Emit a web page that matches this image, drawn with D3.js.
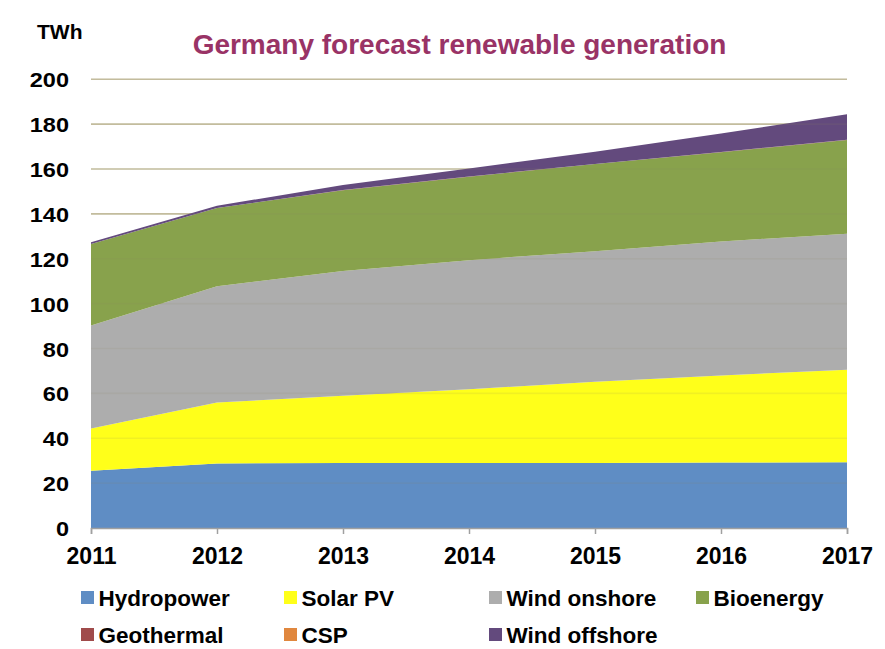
<!DOCTYPE html>
<html>
<head>
<meta charset="utf-8">
<script src="https://cdn.jsdelivr.net/npm/d3@7"></script>
<style>
  body { margin: 0; background: #fff; }
  text { font-family: "Liberation Sans", Arial, sans-serif; font-weight: bold; }
</style>
</head>
<body>
<div id="chart"></div>
<script>
// Germany forecast renewable generation, TWh
const years = [2011, 2012, 2013, 2014, 2015, 2016, 2017];
const hydropower = [25.5, 28.8, 29.0, 29.0, 29.0, 29.2, 29.3];
const solarPV = [18.9, 27.1, 29.9, 32.8, 36.2, 38.8, 41.2];
const windOnshore = [45.9, 51.9, 55.6, 57.6, 58.2, 59.7, 60.7];
const bioenergy = [36.3, 34.8, 36.1, 37.2, 38.8, 39.8, 41.7];
const geothermal = [0.02, 0.03, 0.05, 0.08, 0.1, 0.1, 0.17];
const csp = [0, 0, 0, 0, 0, 0, 0];
const windOffshore = [0.8, 1.0, 2.25, 3.6, 5.4, 8.2, 11.4];
const yTicks = [0, 20, 40, 60, 80, 100, 120, 140, 160, 180, 200];

const seriesNames = ["Hydropower", "Solar PV", "Wind onshore", "Bioenergy", "Geothermal", "CSP", "Wind offshore"];
const seriesValues = [hydropower, solarPV, windOnshore, bioenergy, geothermal, csp, windOffshore];
const seriesColors = ["#5f8dc4", "#ffff1a", "#adadad", "#88a24c", "#a04b4b", "#e0873e", "#634a7d"];

// table for d3.stack
const table = years.map((y, i) => {
  const row = { year: y };
  seriesNames.forEach((name, k) => { row[name] = seriesValues[k][i]; });
  return row;
});

const width = 885;
const height = 649;
const plot = { left: 91, right: 847, top: 79.3, bottom: 528 };

const svg = d3.select("#chart")
  .append("svg")
  .attr("width", width)
  .attr("height", height);

const xScale = d3.scaleLinear()
  .domain(d3.extent(years))
  .range([plot.left, plot.right]);

const yScale = d3.scaleLinear()
  .domain([0, 200])
  .range([plot.bottom, plot.top]);

// gridlines behind the areas
const grid = svg.append("g");
grid.selectAll("line")
  .data(yTicks.filter(d => d > 0))
  .enter()
  .append("line")
  .attr("x1", plot.left)
  .attr("x2", plot.right)
  .attr("y1", d => yScale(d))
  .attr("y2", d => yScale(d))
  .attr("stroke", "#cbc4a6")
  .attr("stroke-width", 1.6);

// stacked areas
const stack = d3.stack().keys(seriesNames);
const layers = stack(table);

const area = d3.area()
  .x(d => xScale(d.data.year))
  .y0(d => yScale(d[0]))
  .y1(d => yScale(d[1]));

svg.append("g")
  .selectAll("path")
  .data(layers)
  .enter()
  .append("path")
  .attr("d", area)
  .attr("fill", (d, i) => seriesColors[i]);

// faint gridlines showing through the areas
svg.append("g")
  .selectAll("line")
  .data(yTicks.filter(d => d > 0))
  .enter()
  .append("line")
  .attr("x1", plot.left)
  .attr("x2", plot.right)
  .attr("y1", d => yScale(d))
  .attr("y2", d => yScale(d))
  .attr("stroke", "#8a8060")
  .attr("stroke-opacity", 0.12)
  .attr("stroke-width", 1.6);

// x axis
const xAxis = svg.append("g")
  .attr("transform", `translate(0, ${plot.bottom})`)
  .call(d3.axisBottom(xScale).tickValues(years).tickFormat(d3.format("d")).tickSize(6).tickPadding(14));
xAxis.select(".domain").attr("stroke", "#a0a0a0").attr("stroke-width", 1.5);
xAxis.selectAll(".tick line").attr("stroke", "#a0a0a0").attr("stroke-width", 1.5);
xAxis.selectAll(".tick text")
  .attr("font-size", "23px")
  .attr("fill", "#000")
  .attr("dy", "0.71em")
  .style("font-family", "'Liberation Sans', Arial, sans-serif");

// y axis labels (a bit wider than plain Arial in the original)
const yAxis = svg.append("g")
  .attr("transform", `translate(${plot.left}, 0)`)
  .call(d3.axisLeft(yScale).tickValues(yTicks).tickSize(0));
yAxis.select(".domain").remove();
yAxis.selectAll(".tick text")
  .attr("x", 0)
  .attr("transform", "translate(-22, 0) scale(1.12, 1)")
  .attr("font-size", "21px")
  .attr("fill", "#000")
  .attr("dy", "0.36em")
  .style("font-family", "'Liberation Sans', Arial, sans-serif");

// unit label
svg.append("text")
  .attr("x", 37)
  .attr("y", 39)
  .attr("font-size", "21px")
  .attr("fill", "#000")
  .text("TWh");

// title
svg.append("text")
  .attr("x", 459.5)
  .attr("y", 54)
  .attr("text-anchor", "middle")
  .attr("font-size", "28px")
  .attr("fill", "#993366")
  .text("Germany forecast renewable generation");

// legend
const legendCols = [81, 284, 489, 696];
const legendRows = [606, 643];
const legend = svg.append("g");
const items = legend.selectAll("g")
  .data(seriesNames)
  .enter()
  .append("g")
  .attr("transform", (d, i) => `translate(${legendCols[i % 4]}, ${legendRows[Math.floor(i / 4)]})`);
items.append("rect")
  .attr("x", 0)
  .attr("y", -15)
  .attr("width", 13)
  .attr("height", 13)
  .attr("fill", (d, i) => seriesColors[i]);
items.append("text")
  .attr("x", 17.5)
  .attr("y", 0)
  .attr("font-size", "22.5px")
  .attr("fill", "#000")
  .text(d => d);
</script>
</body>
</html>
